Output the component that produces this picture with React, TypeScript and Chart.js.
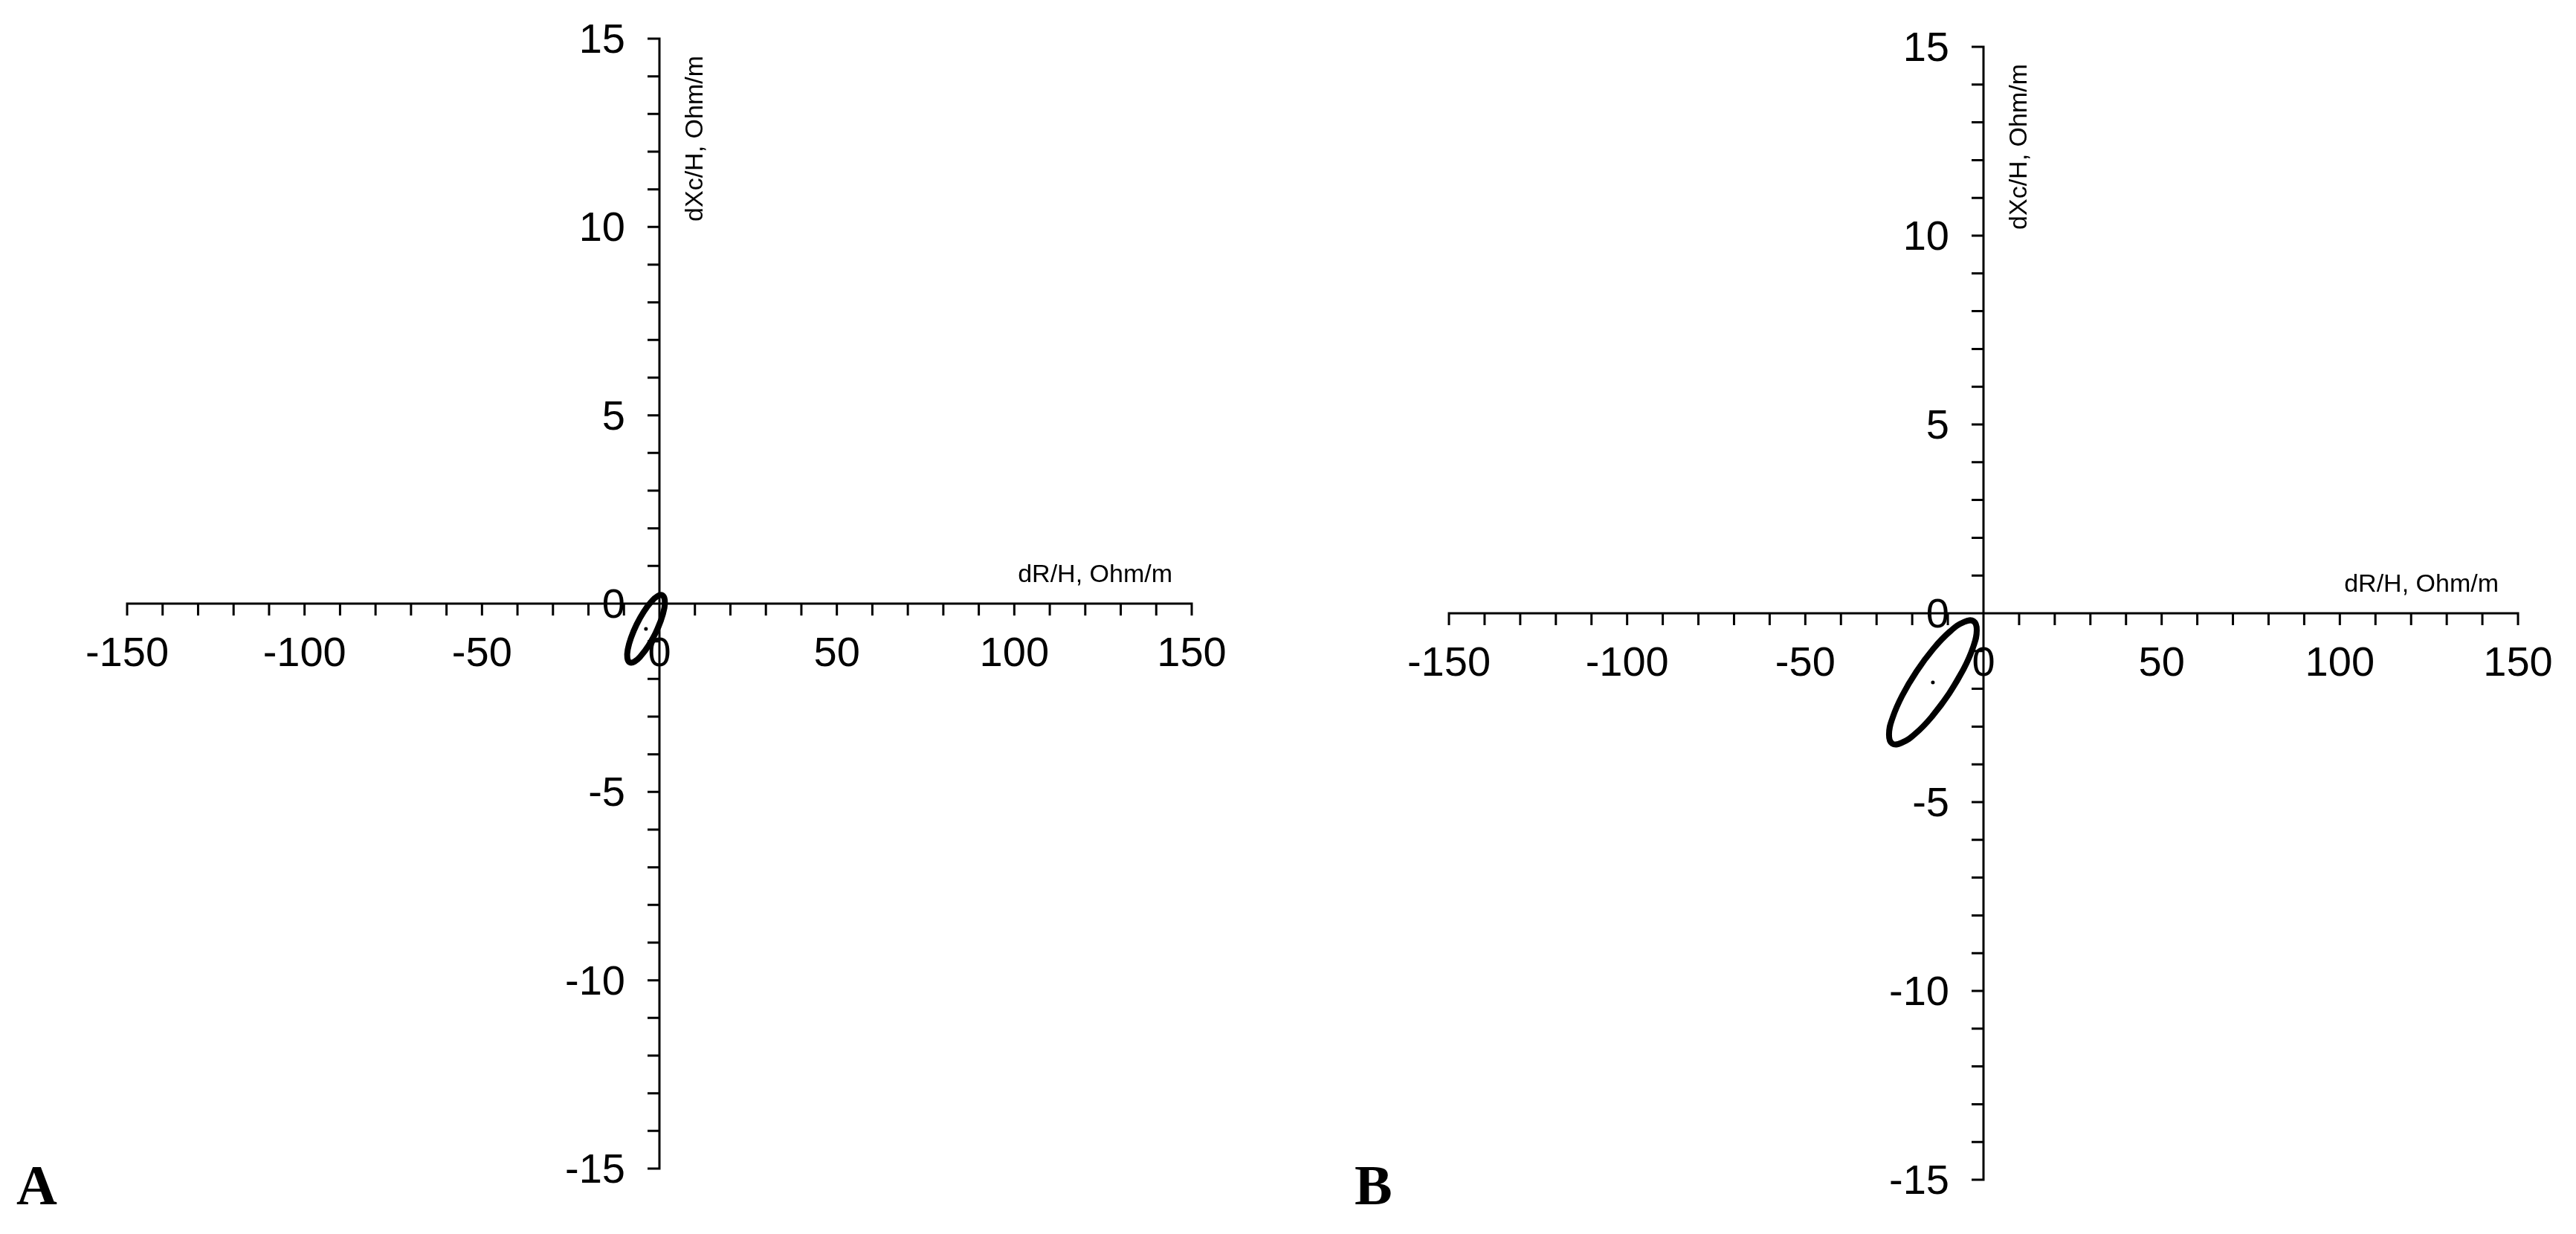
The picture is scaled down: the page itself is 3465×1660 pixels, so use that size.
import React, { useEffect, useRef } from 'react';
import { Chart, registerables } from 'chart.js';

Chart.register(...registerables);

// ---- axis ranges & ticks ----
const X_MIN = -150;
const X_MAX = 150;
const Y_MIN = -15;
const Y_MAX = 15;
const xTickValues = [-150, -140, -130, -120, -110, -100, -90, -80, -70, -60, -50, -40, -30, -20, -10, 0, 10, 20, 30, 40, 50, 60, 70, 80, 90, 100, 110, 120, 130, 140, 150];
const xTickLabels = [-150, -100, -50, 0, 50, 100, 150];
const yTickValues = [-15, -14, -13, -12, -11, -10, -9, -8, -7, -6, -5, -4, -3, -2, -1, 0, 1, 2, 3, 4, 5, 6, 7, 8, 9, 10, 11, 12, 13, 14, 15];
const yTickLabels = [-15, -10, -5, 0, 5, 10, 15];
const xAxisTitle = 'dR/H, Ohm/m';
const yAxisTitle = 'dXc/H, Ohm/m';
const panelLabels = ['A', 'B'];

// ---- panel A ellipse, closed loop ----
const ellipseA_x = [0.44, -1.13, -3.10, -5.16, -7.02, -8.38, -9.04, -8.90, -7.98, -6.41, -4.44, -2.38, -0.52, 0.84, 1.50, 1.36, 0.44, -1.13, -3.10];
const ellipseA_y = [-0.44, -0.79, -1.12, -1.38, -1.54, -1.56, -1.44, -1.21, -0.90, -0.55, -0.22, 0.04, 0.20, 0.22, 0.10, -0.13, -0.44, -0.79, -1.12];
const centerA_x = [-3.8];
const centerA_y = [-0.67];

// ---- panel B ellipse, closed loop ----
const ellipseB_x = [-5.59, -9.61, -14.33, -19.02, -22.99, -25.62, -26.51, -25.52, -22.81, -18.79, -14.07, -9.38, -5.41, -2.78, -1.89, -2.88, -5.59, -9.61, -14.33];
const ellipseB_y = [-1.48, -2.12, -2.72, -3.18, -3.43, -3.45, -3.21, -2.77, -2.18, -1.54, -0.94, -0.48, -0.23, -0.21, -0.45, -0.89, -1.48, -2.12, -2.72];
const centerB_x = [-14.2];
const centerB_y = [-1.83];

const SANS = '"Liberation Sans", Arial, sans-serif';
const SERIF = '"Liberation Serif", "Times New Roman", serif';

const crossAxesPlugin = {
  id: 'crossAxes',
  beforeDatasetsDraw(chart: any, _args: any, opts: any) {
    const { ctx } = chart;
    const x = chart.scales.x;
    const y = chart.scales.y;
    const x0 = x.getPixelForValue(0);
    const y0 = y.getPixelForValue(0);
    const xl = x.getPixelForValue(X_MIN);
    const xr = x.getPixelForValue(X_MAX);
    const yt = y.getPixelForValue(Y_MAX);
    const yb = y.getPixelForValue(Y_MIN);
    ctx.save();
    ctx.strokeStyle = '#000';
    ctx.lineWidth = 3;
    ctx.lineCap = 'butt';
    ctx.beginPath();
    ctx.moveTo(xl - 1.5, y0);
    ctx.lineTo(xr + 1.5, y0);
    ctx.moveTo(x0, yt - 1.5);
    ctx.lineTo(x0, yb + 1.5);
    for (const v of xTickValues) {
      const px = x.getPixelForValue(v);
      ctx.moveTo(px, y0);
      ctx.lineTo(px, y0 + 16);
    }
    for (const v of yTickValues) {
      const py = y.getPixelForValue(v);
      ctx.moveTo(x0, py);
      ctx.lineTo(x0 - 16, py);
    }
    ctx.stroke();

    ctx.fillStyle = '#000';
    ctx.font = `56px ${SANS}`;
    ctx.textBaseline = 'alphabetic';
    ctx.textAlign = 'center';
    for (const v of xTickLabels) {
      ctx.fillText(String(v), x.getPixelForValue(v), y0 + 84);
    }
    ctx.textAlign = 'right';
    for (const v of yTickLabels) {
      ctx.fillText(String(v), x0 - 46, y.getPixelForValue(v) + 19);
    }

    ctx.font = `34px ${SANS}`;
    ctx.textAlign = 'right';
    ctx.fillText(xAxisTitle, xr - 26, y0 - 29);
    ctx.save();
    ctx.translate(x0 + 58, yt + 23);
    ctx.rotate(-Math.PI / 2);
    ctx.textAlign = 'right';
    ctx.fillText(yAxisTitle, 0, 0);
    ctx.restore();

    ctx.font = `bold 76px ${SERIF}`;
    ctx.textAlign = 'left';
    ctx.fillText(opts.label, opts.labelX, 1620);
    ctx.restore();
  },
};

type PanelProps = {
  left: number;
  width: number;
  padding: { left: number; right: number; top: number; bottom: number };
  ex: number[];
  ey: number[];
  cx: number[];
  cy: number[];
  label: string;
  labelX: number;
};

function Panel({ left, width, padding, ex, ey, cx, cy, label, labelX }: PanelProps) {
  const ref = useRef<HTMLCanvasElement>(null);
  useEffect(() => {
    if (!ref.current) return;
    const chart = new Chart(ref.current, {
      type: 'scatter',
      data: {
        datasets: [
          {
            data: ex.map((v, i) => ({ x: v, y: ey[i] })),
            showLine: true,
            borderColor: '#000',
            backgroundColor: '#000',
            borderWidth: 8,
            pointRadius: 0,
            tension: 0.45,
            fill: false,
          },
          {
            data: cx.map((v, i) => ({ x: v, y: cy[i] })),
            showLine: false,
            pointRadius: 2.5,
            backgroundColor: '#000',
            borderColor: '#000',
            borderWidth: 0,
          },
        ],
      },
      options: {
        responsive: false,
        animation: false,
        devicePixelRatio: 1,
        events: [],
        layout: { padding },
        plugins: {
          legend: { display: false },
          tooltip: { enabled: false },
          crossAxes: { label, labelX },
        } as any,
        scales: {
          x: { type: 'linear', min: X_MIN, max: X_MAX, display: false },
          y: { type: 'linear', min: Y_MIN, max: Y_MAX, display: false },
        },
      },
      plugins: [crossAxesPlugin],
    });
    return () => chart.destroy();
  }, []);
  return (
    <canvas
      ref={ref}
      width={width}
      height={1660}
      style={{ position: 'absolute', left, top: 0, width, height: 1660 }}
    />
  );
}

export default function App() {
  return (
    <div style={{ position: 'fixed', left: 0, top: 0, width: 3465, height: 1660, background: '#fff' }}>
      <Panel
        left={0}
        width={1730}
        padding={{ left: 171, right: 127, top: 52, bottom: 88 }}
        ex={ellipseA_x}
        ey={ellipseA_y}
        cx={centerA_x}
        cy={centerA_y}
        label={panelLabels[0]}
        labelX={22}
      />
      <Panel
        left={1730}
        width={1735}
        padding={{ left: 219, right: 78, top: 63, bottom: 73 }}
        ex={ellipseB_x}
        ey={ellipseB_y}
        cx={centerB_x}
        cy={centerB_y}
        label={panelLabels[1]}
        labelX={92}
      />
    </div>
  );
}
